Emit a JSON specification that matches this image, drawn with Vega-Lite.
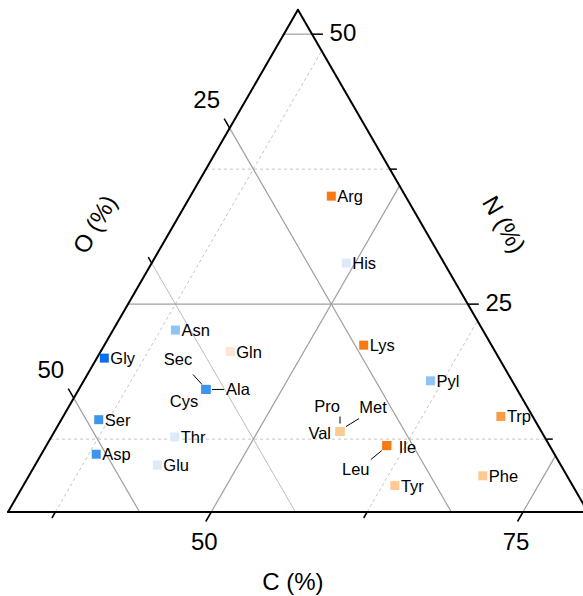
{
  "$schema": "https://vega.github.io/schema/vega-lite/v6.json",
  "width": 575,
  "height": 502,
  "autosize": {"type": "none"},
  "padding": {"left": 8, "top": 10, "right": 0, "bottom": 84},
  "background": "white",
  "config": {"view": {"stroke": null}, "text": {"font": "Liberation Sans", "color": "black"}},
  "datasets": {
    "aa": [
      {"name": "Gly", "C": 34.3, "N": 20.0, "O": 45.7, "grp": 1},
      {"name": "Ser", "C": 36.7, "N": 14.3, "O": 49.0, "grp": 2},
      {"name": "Asp", "C": 38.1, "N": 11.1, "O": 50.8, "grp": 2},
      {"name": "Ala", "C": 43.9, "N": 17.1, "O": 39.0, "grp": 2},
      {"name": "Cys", "C": 43.9, "N": 17.1, "O": 39.0, "grp": 2},
      {"name": "Sec", "C": 43.9, "N": 17.1, "O": 39.0, "grp": 2},
      {"name": "Asn", "C": 38.7, "N": 22.6, "O": 38.7, "grp": 3},
      {"name": "Pyl", "C": 61.5, "N": 17.9, "O": 20.6, "grp": 3},
      {"name": "His", "C": 49.3, "N": 28.8, "O": 21.9, "grp": 4},
      {"name": "Thr", "C": 43.6, "N": 12.7, "O": 43.7, "grp": 4},
      {"name": "Glu", "C": 43.5, "N": 10.1, "O": 46.4, "grp": 4},
      {"name": "Gln", "C": 44.1, "N": 20.6, "O": 35.3, "grp": 5},
      {"name": "Val", "C": 56.6, "N": 13.2, "O": 30.2, "grp": 6},
      {"name": "Pro", "C": 56.6, "N": 13.2, "O": 30.2, "grp": 6},
      {"name": "Met", "C": 56.6, "N": 13.2, "O": 30.2, "grp": 6},
      {"name": "Tyr", "C": 63.5, "N": 8.2, "O": 28.3, "grp": 6},
      {"name": "Phe", "C": 70.1, "N": 9.1, "O": 20.8, "grp": 6},
      {"name": "Trp", "C": 68.8, "N": 14.6, "O": 16.6, "grp": 7},
      {"name": "Arg", "C": 45.0, "N": 35.0, "O": 20.0, "grp": 8},
      {"name": "Lys", "C": 54.5, "N": 21.2, "O": 24.3, "grp": 8},
      {"name": "Ile", "C": 61.0, "N": 11.9, "O": 27.1, "grp": 8},
      {"name": "Leu", "C": 61.0, "N": 11.9, "O": 27.1, "grp": 8}
    ],
    "grid": [
      {"axis": "N", "v": 25, "kind": "major"},
      {"axis": "N", "v": 50, "kind": "major"},
      {"axis": "C", "v": 50, "kind": "major"},
      {"axis": "C", "v": 75, "kind": "major"},
      {"axis": "O", "v": 25, "kind": "major"},
      {"axis": "O", "v": 50, "kind": "major"},
      {"axis": "O", "v": 37.5, "kind": "minorsolid"},
      {"axis": "N", "v": 12.5, "kind": "minor"},
      {"axis": "N", "v": 37.5, "kind": "minor"},
      {"axis": "C", "v": 37.5, "kind": "minor"},
      {"axis": "C", "v": 62.5, "kind": "minor"},
      {"axis": "N", "v": 5.75, "kind": "frame"},
      {"axis": "C", "v": 33.7, "kind": "frame"},
      {"axis": "O", "v": 14.05, "kind": "frame"}
    ],
    "ticks": [
      {"axis": "C", "v": 37.5, "major": false, "lab": ""},
      {"axis": "C", "v": 50, "major": true, "lab": "50"},
      {"axis": "C", "v": 62.5, "major": false, "lab": ""},
      {"axis": "C", "v": 75, "major": true, "lab": "75"},
      {"axis": "N", "v": 12.5, "major": false, "lab": ""},
      {"axis": "N", "v": 25, "major": true, "lab": "25"},
      {"axis": "N", "v": 37.5, "major": false, "lab": ""},
      {"axis": "N", "v": 50, "major": true, "lab": "50"},
      {"axis": "O", "v": 25, "major": true, "lab": "25"},
      {"axis": "O", "v": 37.5, "major": false, "lab": ""},
      {"axis": "O", "v": 50, "major": true, "lab": "50"}
    ],
    "titles": [
      {"t": "C (%)", "axis": "C"},
      {"t": "O (%)", "axis": "O"},
      {"t": "N (%)", "axis": "N"}
    ]
  },
  "encoding": {
    "x": {"field": "X", "type": "quantitative", "scale": {"domain": [0, 46.11], "nice": false, "zero": false}, "axis": null},
    "y": {"field": "Y", "type": "quantitative", "scale": {"domain": [0, 40.26], "nice": false, "zero": false}, "axis": null}
  },
  "layer": [
    {
      "data": {"name": "grid"},
      "transform": [
        {"calculate": "datum.axis === 'N' ? 33.7 : datum.axis === 'C' ? datum.v : 33.7", "as": "c1"},
        {"calculate": "datum.axis === 'N' ? datum.v : datum.axis === 'C' ? 5.75 : 100 - datum.v - 33.7", "as": "n1"},
        {"calculate": "datum.axis === 'N' ? 100 - datum.v - 14.05 : datum.axis === 'C' ? datum.v : 100 - datum.v - 5.75", "as": "c2"},
        {"calculate": "datum.axis === 'N' ? datum.v : datum.axis === 'C' ? 100 - datum.v - 14.05 : 5.75", "as": "n2"},
        {"calculate": "datum.c1 - 33.7 + (datum.n1 - 5.75) / 2", "as": "X"},
        {"calculate": "(datum.n1 - 5.75) * 0.8660254", "as": "Y"},
        {"calculate": "datum.c2 - 33.7 + (datum.n2 - 5.75) / 2", "as": "X2"},
        {"calculate": "(datum.n2 - 5.75) * 0.8660254", "as": "Y2"}
      ],
      "encoding": {"x2": {"field": "X2"}, "y2": {"field": "Y2"}},
      "layer": [
        {"transform": [{"filter": "datum.kind === 'minor'"}], "mark": {"type": "rule", "color": "#c4c4c4", "strokeWidth": 1, "strokeDash": [3, 3]}},
        {"transform": [{"filter": "datum.kind === 'minorsolid'"}], "mark": {"type": "rule", "color": "#bdbdbd", "strokeWidth": 1}},
        {"transform": [{"filter": "datum.kind === 'major'"}], "mark": {"type": "rule", "color": "#a0a0a0", "strokeWidth": 1.2}},
        {"transform": [{"filter": "datum.kind === 'frame'"}], "mark": {"type": "rule", "color": "black", "strokeWidth": 2, "strokeCap": "round"}}
      ]
    },
    {
      "data": {"name": "ticks"},
      "transform": [
        {"calculate": "datum.axis === 'C' ? datum.v : datum.axis === 'N' ? 100 - datum.v - 14.05 : 33.7", "as": "tc"},
        {"calculate": "datum.axis === 'C' ? 5.75 : datum.axis === 'N' ? datum.v : 100 - datum.v - 33.7", "as": "tn"},
        {"calculate": "datum.tc - 33.7 + (datum.tn - 5.75) / 2", "as": "X"},
        {"calculate": "(datum.tn - 5.75) * 0.8660254", "as": "Y"}
      ],
      "layer": [
        {"transform": [{"filter": "datum.axis === 'C' && datum.major"}], "mark": {"type": "rule", "color": "black", "strokeWidth": 1.5, "x2Offset": -5.5, "y2Offset": 9.5}, "encoding": {"x2": {"field": "X"}, "y2": {"field": "Y"}}},
        {"transform": [{"filter": "datum.axis === 'C' && !datum.major"}], "mark": {"type": "rule", "color": "black", "strokeWidth": 1.5, "x2Offset": -3.5, "y2Offset": 6}, "encoding": {"x2": {"field": "X"}, "y2": {"field": "Y"}}},
        {"transform": [{"filter": "datum.axis === 'N' && datum.major"}], "mark": {"type": "rule", "color": "black", "strokeWidth": 1.5, "x2Offset": 11}, "encoding": {"x2": {"field": "X"}, "y2": {"field": "Y"}}},
        {"transform": [{"filter": "datum.axis === 'N' && !datum.major"}], "mark": {"type": "rule", "color": "black", "strokeWidth": 1.5, "x2Offset": 7}, "encoding": {"x2": {"field": "X"}, "y2": {"field": "Y"}}},
        {"transform": [{"filter": "datum.axis === 'O' && datum.major"}], "mark": {"type": "rule", "color": "black", "strokeWidth": 1.5, "x2Offset": -5.5, "y2Offset": -9.5}, "encoding": {"x2": {"field": "X"}, "y2": {"field": "Y"}}},
        {"transform": [{"filter": "datum.axis === 'O' && !datum.major"}], "mark": {"type": "rule", "color": "black", "strokeWidth": 1.5, "x2Offset": -3.5, "y2Offset": -6}, "encoding": {"x2": {"field": "X"}, "y2": {"field": "Y"}}},
        {"transform": [{"filter": "datum.axis === 'C' && datum.major"}], "mark": {"type": "text", "fontSize": 24, "align": "center", "baseline": "middle", "xOffset": -7, "yOffset": 31}, "encoding": {"text": {"field": "lab"}}},
        {"transform": [{"filter": "datum.axis === 'N' && datum.major"}], "mark": {"type": "text", "fontSize": 24, "align": "center", "baseline": "middle", "xOffset": 31, "yOffset": 0}, "encoding": {"text": {"field": "lab"}}},
        {"transform": [{"filter": "datum.axis === 'O' && datum.major"}], "mark": {"type": "text", "fontSize": 24, "align": "center", "baseline": "middle", "xOffset": -23, "yOffset": -27}, "encoding": {"text": {"field": "lab"}}}
      ]
    },
    {
      "data": {"name": "titles"},
      "transform": [
        {"calculate": "datum.axis === 'C' ? (33.7 + 80.2) / 2 : datum.axis === 'O' ? 33.7 : 100 - (5.75 + 52.25) / 2 - 14.05", "as": "tc"},
        {"calculate": "datum.axis === 'C' ? 5.75 : (5.75 + 52.25) / 2", "as": "tn"},
        {"calculate": "datum.tc - 33.7 + (datum.tn - 5.75) / 2", "as": "X"},
        {"calculate": "(datum.tn - 5.75) * 0.8660254", "as": "Y"}
      ],
      "encoding": {"text": {"field": "t"}},
      "layer": [
        {"transform": [{"filter": "datum.axis === 'C'"}], "mark": {"type": "text", "fontSize": 24, "align": "center", "baseline": "middle", "xOffset": -5, "yOffset": 71}},
        {"transform": [{"filter": "datum.axis === 'O'"}], "mark": {"type": "text", "fontSize": 24, "align": "center", "baseline": "middle", "angle": -60, "xOffset": -57, "yOffset": -36}},
        {"transform": [{"filter": "datum.axis === 'N'"}], "mark": {"type": "text", "fontSize": 24, "align": "center", "baseline": "middle", "angle": 60, "xOffset": 60, "yOffset": -36}}
      ]
    },
    {
      "data": {"name": "aa"},
      "transform": [
        {"calculate": "datum.C - 33.7 + (datum.N - 5.75) / 2", "as": "X"},
        {"calculate": "(datum.N - 5.75) * 0.8660254", "as": "Y"}
      ],
      "layer": [
        {"transform": [{"filter": "datum.name === 'Sec'"}], "mark": {"type": "rule", "color": "black", "strokeWidth": 1, "xOffset": -13, "yOffset": -15, "x2Offset": -4, "y2Offset": -5}, "encoding": {"x2": {"field": "X"}, "y2": {"field": "Y"}}},
        {"transform": [{"filter": "datum.name === 'Ala'"}], "mark": {"type": "rule", "color": "black", "strokeWidth": 1, "xOffset": 6, "yOffset": 0, "x2Offset": 18, "y2Offset": 0}, "encoding": {"x2": {"field": "X"}, "y2": {"field": "Y"}}},
        {"transform": [{"filter": "datum.name === 'Pro'"}], "mark": {"type": "rule", "color": "black", "strokeWidth": 1, "xOffset": 0, "yOffset": -15, "x2Offset": 0, "y2Offset": -8}, "encoding": {"x2": {"field": "X"}, "y2": {"field": "Y"}}},
        {"transform": [{"filter": "datum.name === 'Met'"}], "mark": {"type": "rule", "color": "black", "strokeWidth": 1, "xOffset": 6, "yOffset": -5, "x2Offset": 19, "y2Offset": -13}, "encoding": {"x2": {"field": "X"}, "y2": {"field": "Y"}}},
        {"transform": [{"filter": "datum.name === 'Leu'"}], "mark": {"type": "rule", "color": "black", "strokeWidth": 1, "xOffset": -16, "yOffset": 14, "x2Offset": -5, "y2Offset": 5}, "encoding": {"x2": {"field": "X"}, "y2": {"field": "Y"}}},
        {
          "mark": {"type": "point", "shape": "square", "filled": true, "size": 81, "opacity": 1},
          "encoding": {
            "color": {"field": "grp", "type": "ordinal", "scale": {"domain": [1, 2, 3, 4, 5, 6, 7, 8], "range": ["#0a6ef0", "#3d95ec", "#8ec4f4", "#dce9f9", "#fbe5d5", "#fdca93", "#f99b45", "#f57a10"]}, "legend": null}
          }
        },
        {"transform": [{"filter": "indexof(['Sec','Cys','Ala','Pro','Met','Val','Leu','Ile'], datum.name) < 0"}], "mark": {"type": "text", "fontSize": 16.5, "align": "left", "baseline": "middle", "xOffset": 6, "yOffset": 1}, "encoding": {"text": {"field": "name"}}},
        {"transform": [{"filter": "datum.name === 'Sec'"}], "mark": {"type": "text", "fontSize": 16.5, "align": "center", "baseline": "middle", "xOffset": -28, "yOffset": -29}, "encoding": {"text": {"field": "name"}}},
        {"transform": [{"filter": "datum.name === 'Cys'"}], "mark": {"type": "text", "fontSize": 16.5, "align": "center", "baseline": "middle", "xOffset": -22, "yOffset": 13}, "encoding": {"text": {"field": "name"}}},
        {"transform": [{"filter": "datum.name === 'Ala'"}], "mark": {"type": "text", "fontSize": 16.5, "align": "left", "baseline": "middle", "xOffset": 20, "yOffset": 1}, "encoding": {"text": {"field": "name"}}},
        {"transform": [{"filter": "datum.name === 'Pro'"}], "mark": {"type": "text", "fontSize": 16.5, "align": "center", "baseline": "middle", "xOffset": -13, "yOffset": -25}, "encoding": {"text": {"field": "name"}}},
        {"transform": [{"filter": "datum.name === 'Met'"}], "mark": {"type": "text", "fontSize": 16.5, "align": "center", "baseline": "middle", "xOffset": 33, "yOffset": -24}, "encoding": {"text": {"field": "name"}}},
        {"transform": [{"filter": "datum.name === 'Val'"}], "mark": {"type": "text", "fontSize": 16.5, "align": "right", "baseline": "middle", "xOffset": -9, "yOffset": 2}, "encoding": {"text": {"field": "name"}}},
        {"transform": [{"filter": "datum.name === 'Ile'"}], "mark": {"type": "text", "fontSize": 16.5, "align": "left", "baseline": "middle", "xOffset": 12, "yOffset": 2}, "encoding": {"text": {"field": "name"}}},
        {"transform": [{"filter": "datum.name === 'Leu'"}], "mark": {"type": "text", "fontSize": 16.5, "align": "center", "baseline": "middle", "xOffset": -31, "yOffset": 24}, "encoding": {"text": {"field": "name"}}}
      ]
    }
  ]
}
